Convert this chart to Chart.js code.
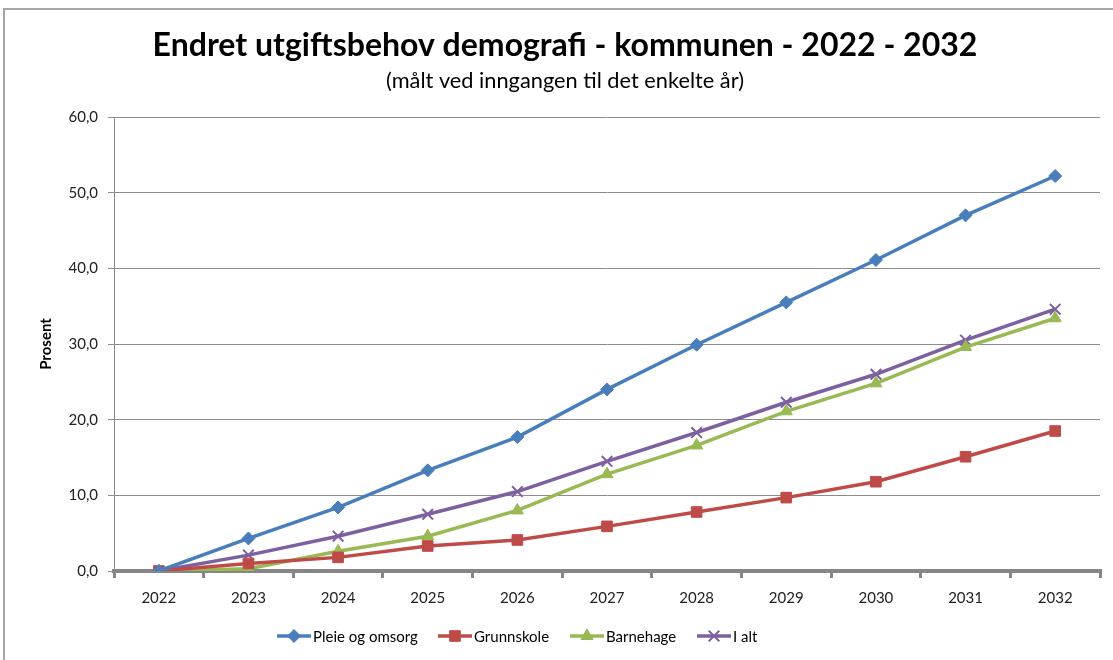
<!DOCTYPE html>
<html><head><meta charset="utf-8">
<script src="https://cdn.jsdelivr.net/npm/chart.js@4/dist/chart.umd.min.js"></script>
<style>html,body{margin:0;padding:0;background:#fff}#wrap{width:1113px;height:660px;position:relative}</style>
</head><body><div id="wrap"><canvas id="c" width="1113" height="660"></canvas></div>
<script>
const categories = ["2022","2023","2024","2025","2026","2027","2028","2029","2030","2031","2032"];
const pleieOgOmsorg = [0, 4.3, 8.4, 13.3, 17.7, 24.0, 29.9, 35.5, 41.1, 47.0, 52.2];
const grunnskole   = [0, 1.0, 1.8, 3.3, 4.1, 5.9, 7.8, 9.7, 11.8, 15.1, 18.5];
const barnehage    = [0, 0.3, 2.6, 4.6, 8.0, 12.8, 16.6, 21.1, 24.8, 29.6, 33.4];
const iAlt         = [0, 2.1, 4.6, 7.5, 10.5, 14.5, 18.3, 22.3, 26.0, 30.5, 34.6];
const seriesNames = ["Pleie og omsorg","Grunnskole","Barnehage","I alt"];
const titleText = "Endret utgiftsbehov demografi - kommunen - 2022 - 2032";
const subtitleText = "(målt ved inngangen til det enkelte år)";
const yTitle = "Prosent";

const FONT = "Lato, 'Open Sans', sans-serif";
const colors = ["#4a7ebb","#be4b48","#98b954","#7d60a0"];
const styles = ["rectRot","rect","triangle","crossRot"];
const radii = [6.5,7.5,7,7.5];

const datasets = [pleieOgOmsorg, grunnskole, barnehage, iAlt].map((d,i)=>({
  label: seriesNames[i], data: d, borderColor: colors[i], backgroundColor: colors[i],
  borderWidth: 3.5, pointStyle: styles[i], pointRadius: radii[i], pointBorderWidth: i===3?2:1,
  pointBorderColor: colors[i], pointBackgroundColor: colors[i], tension: 0
}));

const decor = {
  id: 'decor',
  beforeDraw(chart){
    const ctx = chart.ctx;
    ctx.save();
    ctx.fillStyle = '#fff'; ctx.fillRect(0,0,chart.width,chart.height);
    ctx.strokeStyle = '#a6a6a6'; ctx.lineWidth = 2;
    ctx.beginPath(); ctx.moveTo(4,660); ctx.lineTo(4,9); ctx.lineTo(1113,9); ctx.stroke();
    ctx.restore();
  },
  afterDraw(chart){
    const ctx = chart.ctx;
    ctx.save();
    ctx.fillStyle = '#000'; ctx.textAlign='center'; ctx.textBaseline='middle';
    let fs = 28; ctx.font = `bold ${fs}px ${FONT}`;
    let w = ctx.measureText(titleText).width; fs = fs*825/w;
    ctx.font = `bold ${fs}px ${FONT}`;
    ctx.fillText(titleText, 565, 46);
    let fs2 = 18; ctx.font = `${fs2}px ${FONT}`;
    w = ctx.measureText(subtitleText).width; fs2 = fs2*358/w;
    ctx.font = `${fs2}px ${FONT}`;
    ctx.fillText(subtitleText, 565, 81);
    ctx.save(); ctx.translate(46, 344); ctx.rotate(-Math.PI/2);
    ctx.font = `bold 15px ${FONT}`; ctx.fillText(yTitle, 0, 0); ctx.restore();
    // legend
    ctx.font = `15px ${FONT}`; ctx.textAlign='left';
    const starts = [277, 438, 570, 697];
    const lineLen = 34, y = 636;
    seriesNames.forEach((n,i)=>{
      const x = starts[i];
      ctx.strokeStyle = colors[i]; ctx.lineWidth = 3.5;
      ctx.beginPath(); ctx.moveTo(x, y); ctx.lineTo(x+lineLen, y); ctx.stroke();
      ctx.fillStyle = colors[i]; ctx.lineWidth = i===3?2:1;
      Chart.helpers.drawPoint(ctx, {pointStyle: styles[i], radius: radii[i], rotation:0, borderWidth: i===3?2:1}, x+lineLen/2, y);
      ctx.fillStyle = '#000';
      ctx.fillText(n, x+lineLen+2, y+1);
    });
    ctx.restore();
  }
};

new Chart(document.getElementById('c'), {
  type: 'line',
  data: { labels: categories, datasets },
  options: {
    responsive: false, animation: false,
    layout: { padding: { top: 117, right: 13, left: 0, bottom: 0 } },
    plugins: { legend: { display: false }, title: { display: false }, tooltip: { enabled: false } },
    scales: {
      x: {
        offset: true,
        grid: { display: true, drawOnChartArea: false, offset: true, tickLength: 7, color: '#868686', lineWidth: 3 },
        border: { display: true, color: '#868686', width: 4 },
        ticks: { color: '#222', font: { family: FONT, size: 15 }, padding: 11, maxRotation: 0 },
        afterFit(s){ s.height = 89; }
      },
      y: {
        min: 0, max: 60,
        grid: { color: '#8c8c8c', lineWidth: 1, tickLength: 6 },
        border: { display: true, color: '#8c8c8c', width: 1 },
        ticks: { stepSize: 10, color: '#222', font: { family: FONT, size: 15 }, padding: 10,
          callback: v => v.toFixed(1).replace('.', ',') },
        afterFit(s){ s.width = 114; }
      }
    }
  },
  plugins: [decor]
});
</script></body></html>
